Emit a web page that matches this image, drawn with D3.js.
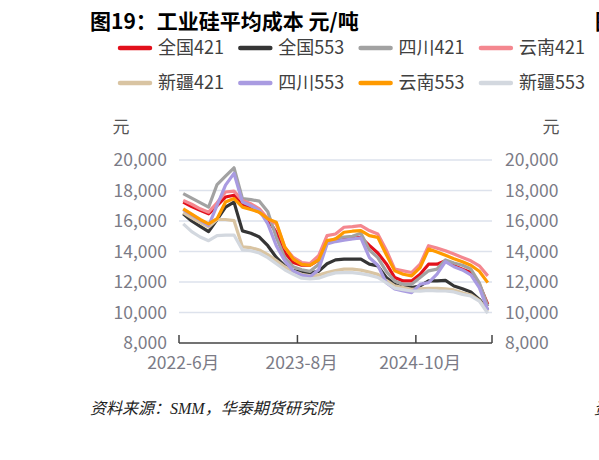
<!DOCTYPE html>
<html>
<head>
<meta charset="utf-8">
<script src="https://cdn.jsdelivr.net/npm/d3@7"></script>
<style>
  body { margin: 0; background: #fff; overflow: hidden; }
  svg { display: block; font-family: "Noto Sans CJK SC", "Noto Sans", sans-serif; }
</style>
</head>
<body>
<div id="chart"></div>
<script>
// months on the category axis
const months = [
    "2022-6月", "2022-7月", "2022-8月", "2022-9月", "2022-10月", "2022-11月", "2022-12月",
    "2023-1月", "2023-2月", "2023-3月", "2023-4月", "2023-5月", "2023-6月", "2023-7月",
    "2023-8月", "2023-9月", "2023-10月", "2023-11月", "2023-12月", "2024-1月", "2024-2月",
    "2024-3月", "2024-4月", "2024-5月", "2024-6月", "2024-7月", "2024-8月", "2024-9月",
    "2024-10月", "2024-11月", "2024-12月", "2025-1月", "2025-2月", "2025-3月", "2025-4月",
    "2025-5月", "2025-6月"
];
const shownMonths = ["2022-6月", "2023-8月", "2024-10月"];
const yTicks = [8000, 10000, 12000, 14000, 16000, 18000, 20000];

const seriesNames = ["全国421", "全国553", "四川421", "云南421", "新疆421", "四川553", "云南553", "新疆553"];
const seriesColors = ["#e2101b", "#353535", "#a2a2a2", "#f4878f", "#d9c4a2", "#a99be1", "#ff9a00", "#d3d8df"];

const quanguo421 = [17240, 16950, 16700, 16470, 17000, 17570, 17690, 17030, 16900, 16580, 16100, 15260, 13940,
    13280, 13100, 13100, 13430, 14600, 14710, 14820, 14860, 14930, 14400, 13900, 13200, 12290, 12070, 12070,
    12510, 13170, 13170, 13390, 13060, 12840, 12620, 11850, 10530];
const quanguo553 = [16470, 16000, 15650, 15300, 16100, 16910, 17240, 15350, 15200, 14950, 14380, 13610, 13060,
    12750, 12650, 12600, 12700, 13200, 13450, 13500, 13500, 13500, 13170, 13060, 12300, 11850, 11630, 11630,
    11740, 12070, 12070, 12110, 11740, 11560, 11340, 10860, 10200];
const sichuan421 = [17800, 17500, 17200, 16910, 18390, 18940, 19490, 17470, 17400, 17300, 16600, 14930, 13600,
    13000, 12800, 12700, 13150, 14550, 14850, 14950, 15000, 15200, 14100, 13600, 12700, 12070, 11850, 11850,
    12290, 12730, 12840, 13450, 13250, 13100, 12850, 11950, 10400];
const yunnan421 = [17350, 17100, 16800, 16580, 17200, 17900, 17960, 17350, 17130, 16800, 16140, 15810, 14270,
    13610, 13280, 13210, 13720, 15040, 15150, 15590, 15630, 15700, 15370, 15150, 14100, 12850, 12730, 12620,
    13170, 14380, 14220, 14050, 13830, 13610, 13390, 13060, 12400];
const xinjiang421 = [16550, 16200, 15900, 15600, 16100, 16100, 16030, 14300, 14250, 14100, 13800, 13400, 13000,
    12700, 12500, 12400, 12450, 12620, 12750, 12840, 12840, 12780, 12650, 12500, 12100, 11750, 11630, 11520,
    11550, 11590, 11590, 11550, 11480, 11300, 11150, 10800, 10090];
const sichuan553 = [16750, 16400, 16050, 15700, 17030, 18350, 19120, 17240, 17000, 16690, 15810, 14380, 13390,
    12730, 12450, 12350, 12800, 14490, 14650, 14750, 14820, 14890, 13610, 13100, 11950, 11540, 11410, 11300,
    11850, 11960, 12510, 13340, 13000, 12790, 12460, 11630, 10150];
const yunnan553 = [16800, 16450, 16100, 15810, 16150, 17240, 17470, 16910, 16750, 16580, 16140, 15920, 14300,
    13500, 13150, 13100, 13450, 14710, 14820, 15260, 15330, 15370, 15040, 14930, 13800, 12730, 12510, 12400,
    12950, 14160, 13960, 13750, 13530, 13330, 13100, 12700, 11960];
const xinjiang553 = [15810, 15300, 14950, 14710, 15040, 15080, 15080, 14100, 14050, 13900, 13600, 13200, 12800,
    12500, 12250, 12200, 12250, 12450, 12600, 12620, 12620, 12550, 12450, 12300, 11950, 11600, 11500, 11410,
    11400, 11450, 11420, 11410, 11350, 11190, 11080, 10750, 9950];

const seriesValues = [quanguo421, quanguo553, sichuan421, yunnan421, xinjiang421, sichuan553, yunnan553, xinjiang553];

const width = 599, height = 460;
const plot = { left: 179, right: 492, top: 160, bottom: 343 };
const labelColor = "#7b7b86";

const svg = d3.select("#chart").append("svg")
    .attr("width", width)
    .attr("height", height);

// title
svg.append("text")
    .attr("x", 90)
    .attr("y", 29)
    .style("font-size", "21px")
    .style("font-weight", "bold")
    .style("fill", "#000")
    .text("图19：工业硅平均成本 元/吨");

// cut-off bits of the neighbouring chart
svg.append("text")
    .attr("x", 595)
    .attr("y", 29)
    .style("font-size", "21px")
    .style("font-weight", "bold")
    .style("fill", "#000")
    .text("图20");

// legend, two rows of four
const legend = svg.append("g").attr("class", "legend");
seriesNames.forEach((name, i) => {
    const col = i % 4, row = Math.floor(i / 4);
    const g = legend.append("g")
        .attr("transform", `translate(${120 + col * 120.3}, ${48 + row * 35})`);
    g.append("line")
        .attr("x1", 0).attr("x2", 30)
        .attr("y1", 0).attr("y2", 0)
        .attr("stroke", seriesColors[i])
        .attr("stroke-width", 4.5)
        .attr("stroke-linecap", "round");
    g.append("text")
        .attr("x", 38)
        .attr("y", 0)
        .attr("dy", "0.36em")
        .style("font-size", "18px")
        .style("fill", "#404040")
        .text(name);
});

const x = d3.scaleBand()
    .domain(months)
    .range([plot.left, plot.right])
    .padding(0);

const y = d3.scaleLinear()
    .domain([8000, 20000])
    .range([plot.bottom, plot.top]);

// grid lines
svg.append("g")
    .attr("class", "grid")
    .selectAll("line")
    .data(yTicks.filter(d => d > 8000))
    .join("line")
    .attr("x1", plot.left)
    .attr("x2", plot.right)
    .attr("y1", d => y(d))
    .attr("y2", d => y(d))
    .attr("stroke", "#dde2ec")
    .attr("stroke-width", 1.5);

// y axes on both sides
const fmt = d3.format(",");
const leftAxis = svg.append("g")
    .attr("transform", `translate(${plot.left - 12}, 0)`)
    .call(d3.axisLeft(y).tickValues(yTicks).tickSize(0).tickPadding(0).tickFormat(fmt));
const rightAxis = svg.append("g")
    .attr("transform", `translate(${plot.right + 13}, 0)`)
    .call(d3.axisRight(y).tickValues(yTicks).tickSize(0).tickPadding(0).tickFormat(fmt));
[leftAxis, rightAxis].forEach(ax => {
    ax.select(".domain").remove();
    ax.selectAll("text")
        .attr("dy", "0.34em")
        .style("font-size", "17.5px")
        .style("font-family", "\"Noto Sans CJK SC\", \"Noto Sans\", sans-serif")
        .style("fill", labelColor);
});

// unit labels
svg.append("text")
    .attr("x", 121).attr("y", 127).attr("dy", "0.36em")
    .attr("text-anchor", "middle")
    .style("font-size", "17px").style("fill", "#555")
    .text("元");
svg.append("text")
    .attr("x", 551).attr("y", 127).attr("dy", "0.36em")
    .attr("text-anchor", "middle")
    .style("font-size", "17px").style("fill", "#555")
    .text("元");

// series lines
const line = d3.line()
    .x((d, i) => x(months[i]) + x.bandwidth() / 2)
    .y(d => y(d));

svg.append("g")
    .attr("class", "series")
    .selectAll("path")
    .data(seriesValues)
    .join("path")
    .attr("d", d => line(d))
    .attr("fill", "none")
    .attr("stroke", (d, i) => seriesColors[i])
    .attr("stroke-width", 3.2)
    .attr("stroke-linejoin", "round");

// x axis: line with ticks on category boundaries
const xAxis = svg.append("g").attr("class", "x-axis");
xAxis.append("line")
    .attr("x1", plot.left).attr("x2", plot.right)
    .attr("y1", plot.bottom).attr("y2", plot.bottom)
    .attr("stroke", "#444")
    .attr("stroke-width", 1.5);
const tickXs = shownMonths.map(m => x(m)).concat([plot.right]);
xAxis.selectAll(".tick-mark")
    .data(tickXs)
    .join("line")
    .attr("class", "tick-mark")
    .attr("x1", d => d).attr("x2", d => d)
    .attr("y1", plot.bottom).attr("y2", plot.bottom - 8)
    .attr("stroke", "#444")
    .attr("stroke-width", 1.5);
xAxis.selectAll(".tick-label")
    .data(shownMonths)
    .join("text")
    .attr("class", "tick-label")
    .attr("x", d => x(d) + x.bandwidth() / 2)
    .attr("y", 369)
    .attr("text-anchor", "middle")
    .style("font-size", "17.5px")
    .style("fill", labelColor)
    .text(d => d);

// source note
svg.append("text")
    .attr("x", 90)
    .attr("y", 414)
    .style("font-size", "16px")
    .style("font-style", "italic")
    .style("font-family", "\"Liberation Serif\", \"Noto Sans CJK SC\", serif")
    .style("fill", "#222")
    .text("资料来源：SMM，华泰期货研究院");
svg.append("text")
    .attr("x", 594)
    .attr("y", 414)
    .style("font-size", "16px")
    .style("font-style", "italic")
    .style("fill", "#222")
    .text("资料来源");
</script>
</body>
</html>
